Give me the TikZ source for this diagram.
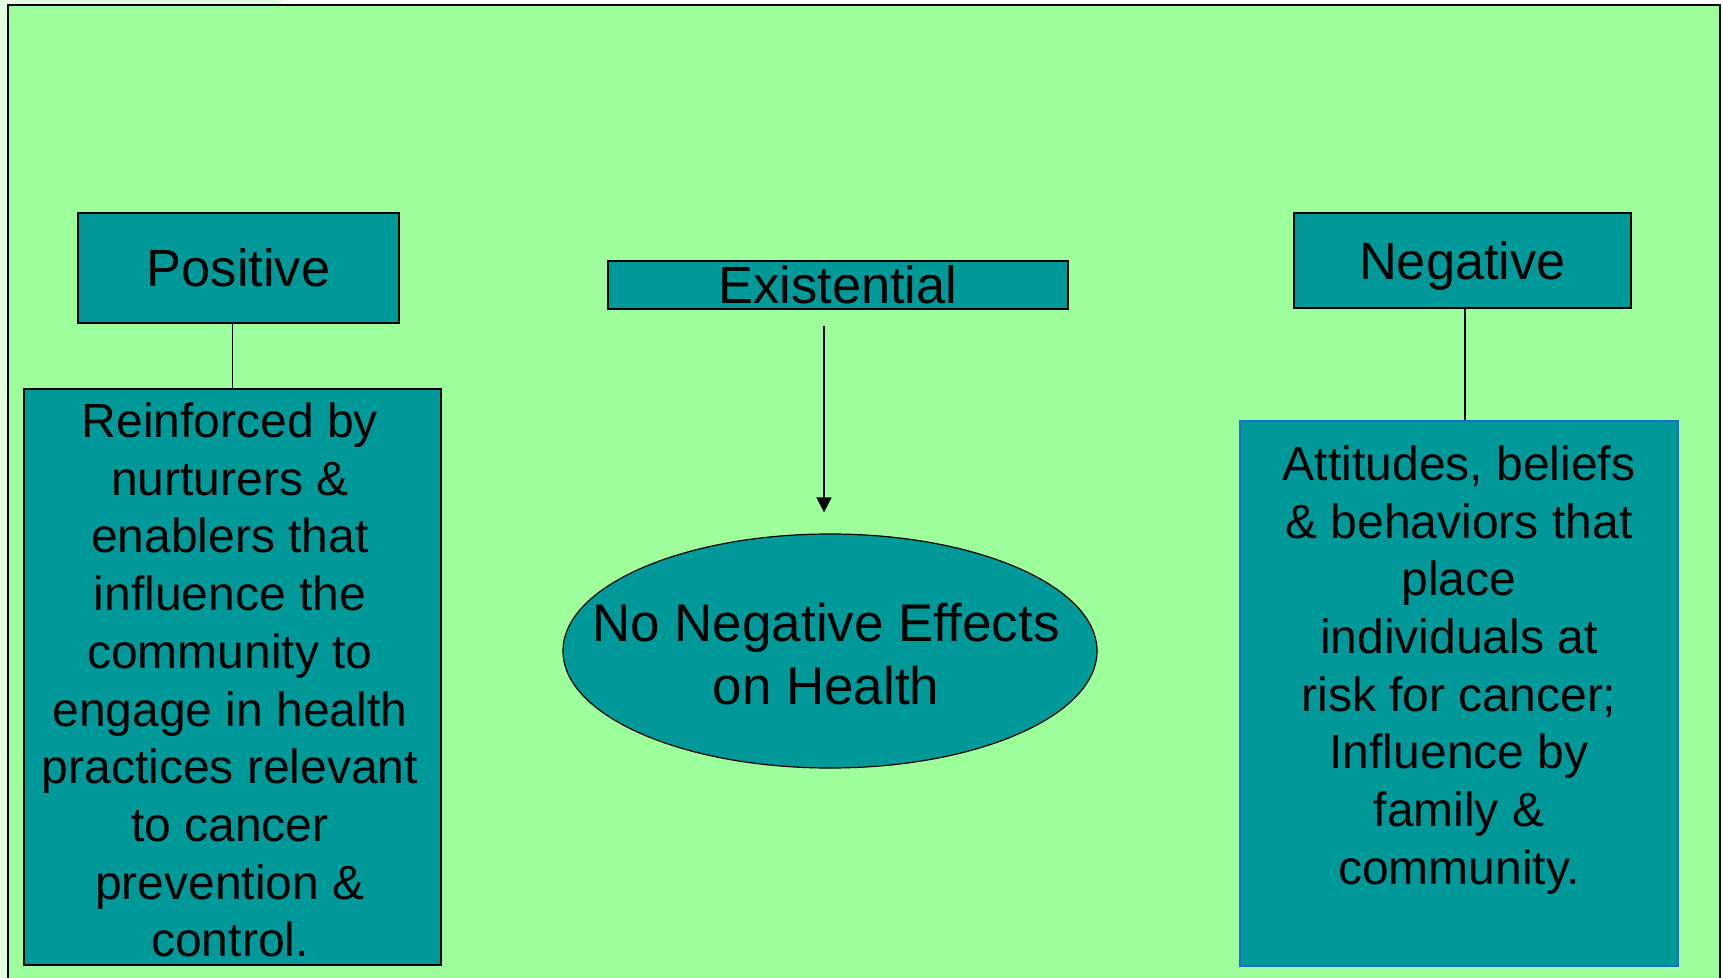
\documentclass[tikz,border=0pt]{standalone}
\usepackage{fontspec}
\setmainfont{Liberation Sans}
\usepackage{tikz}
\usetikzlibrary{arrows.meta,positioning,shapes.geometric,calc}

\definecolor{slidegreen}{RGB}{156,255,156}
\definecolor{paleedge}{RGB}{226,255,226}
\definecolor{tealbox}{RGB}{0,153,153}
\definecolor{boxblue}{RGB}{30,110,210}

\begin{document}
\begin{tikzpicture}[x=0.5pt,y=-0.5pt,>={Triangle[width=7.5pt,length=7.5pt]},
    headbox/.style={draw=black,line width=0.6pt,fill=tealbox,rectangle,inner sep=0pt,
        font=\fontsize{26.2}{31.5}\selectfont,text height=18.8pt,text depth=0pt},
    textbox/.style={draw=black,line width=0.6pt,fill=tealbox,rectangle,inner sep=0pt},
    bodytext/.style={align=center,inner sep=0pt,font=\fontsize{24}{28.85}\selectfont}]

        \useasboundingbox (0,0) rectangle (1723,978);
        \fill[white] (0,0) rectangle (1723,978);
        \fill[paleedge] (0,0) rectangle (281,5);
        \fill[paleedge] (0,0) rectangle (8,978);
        \draw[line width=1.2pt,fill=slidegreen] (8,5) rectangle (1720,1000);

        % left column
        \node[headbox,minimum width=160.5pt,minimum height=55pt] (positive) at (238.5,268) {Positive};
        \node[textbox,minimum width=208.5pt,minimum height=288pt] (reinforced) at (232.5,677) {};
        \node[bodytext] (reinforcedtext) at (230,680) {Reinforced by\\nurturers \&\\enablers that\\influence the\\community to\\engage in health\\practices relevant\\to cancer\\prevention \&\\control.};

        % middle column
        \node[headbox,minimum width=230pt,minimum height=24pt] (existential) at (838,285) {Existential};
        \node[draw=black,line width=0.6pt,fill=tealbox,ellipse,inner sep=0pt,minimum width=267pt,minimum height=117pt] (effects) at (830,651) {};
        \node[align=center,inner sep=0pt,font=\fontsize{26.5}{31.5}\selectfont] (effectstext) at (826,654) {No Negative Effects\\on Health};

        % right column
        \node[headbox,minimum width=168.5pt,minimum height=47.5pt] (negative) at (1462.5,260.5) {Negative};
        \node[textbox,draw=boxblue,line width=0.8pt,minimum width=219pt,minimum height=272.5pt] (risk) at (1459,693.5) {};
        \node[bodytext] (risktext) at (1459,670) {Attitudes, beliefs\\\& behaviors that\\place\\individuals at\\risk for cancer;\\Influence by\\family \&\\community.};

        \draw[line width=0.6pt] (positive.south -| reinforced.north) -- (reinforced.north);
        \draw[line width=0.6pt] (negative.south -| 1465,0) -- (1465,0 |- risk.north);
        \draw[->,line width=0.8pt] ([xshift=-7pt,yshift=-8pt]existential.south) -- ([xshift=-3pt,yshift=10.5pt]effects.north);

\end{tikzpicture}
\end{document}
